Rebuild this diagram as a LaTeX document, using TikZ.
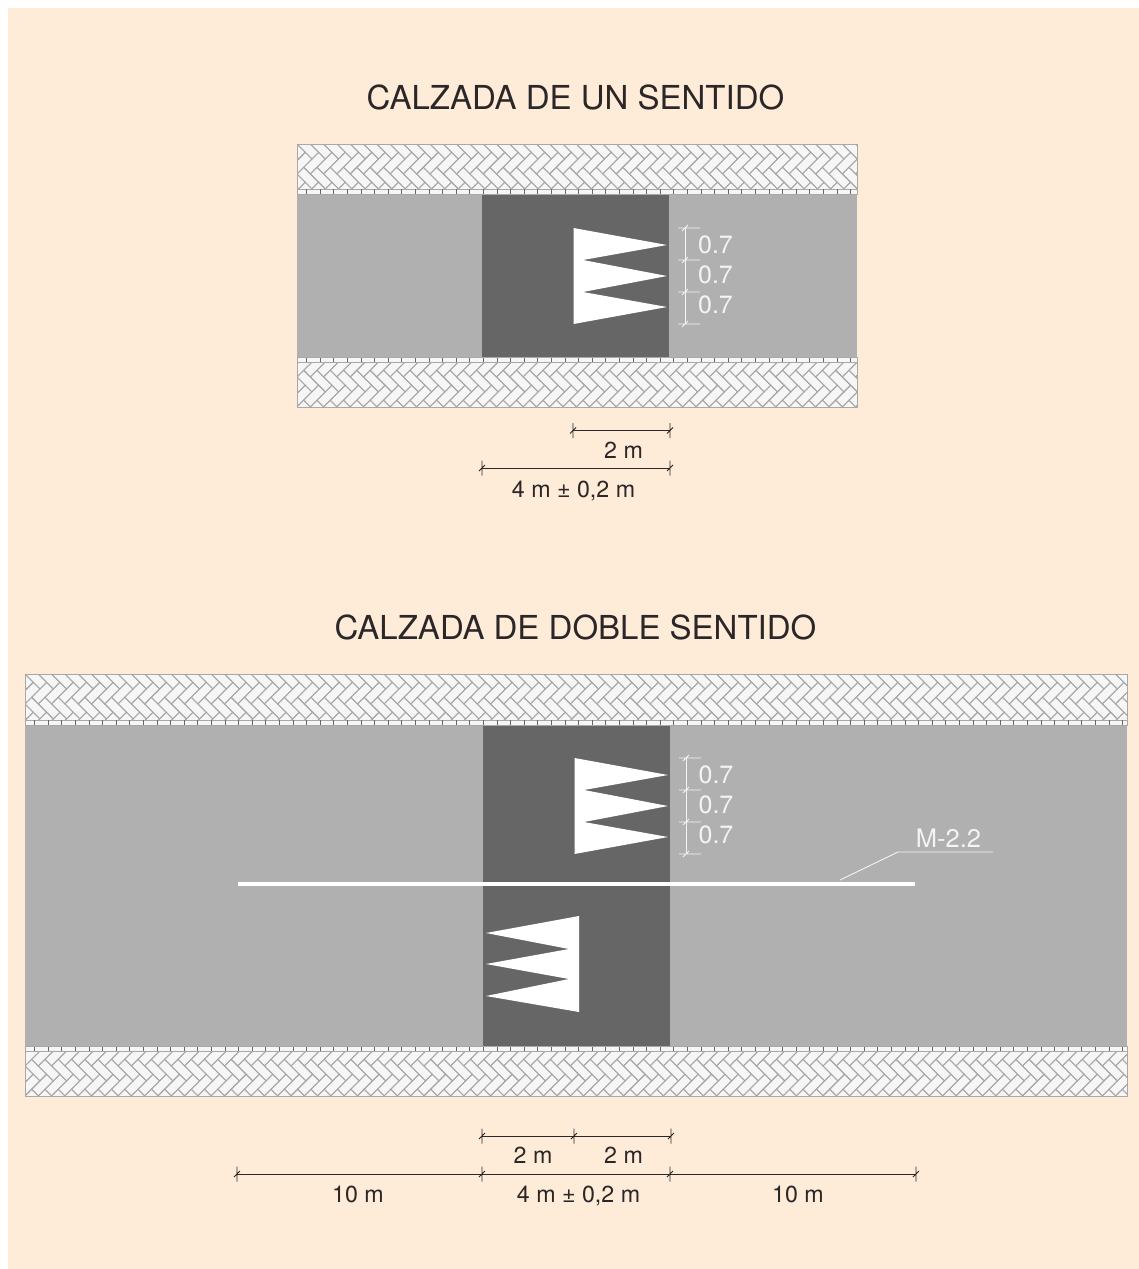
\documentclass[tikz,border=0pt]{standalone}
\usepackage{fontspec}
\setmainfont{TeX Gyre Heros}
\definecolor{bgc}{HTML}{FEEBD8}
\definecolor{roadc}{HTML}{B0B0B0}
\definecolor{darkc}{HTML}{666666}
\definecolor{brickc}{HTML}{F6F6F6}
\definecolor{jointc}{HTML}{A8A8A8}
\definecolor{inkc}{HTML}{2B2728}
\definecolor{paintc}{HTML}{F4F4F4}
\tikzset{
  titletext/.style={font=\fontsize{33}{33}\selectfont,text=inkc,inner sep=0pt},
  dimtext/.style={font=\fontsize{23.2}{24}\selectfont,text=inkc,inner sep=0pt,anchor=base},
  roadtext/.style={font=\fontsize{25}{25}\selectfont,text=paintc,inner sep=0pt},
  dimline/.style={draw=inkc,line width=1pt},
  paintdim/.style={draw=paintc,line width=0.9pt},
  arrowmark/.style={fill=white,draw=none},
  joint/.style={draw=jointc,line width=0.9pt},
}
% x1 x2 ytop ybottom (herringbone area) + pattern origin
\newcommand{\herring}[6]{%
  \fill[brickc] (#1,#3) rectangle (#2,#4);
  \begin{scope}
    \clip (#1,#3) rectangle (#2,#4);
    \begin{scope}[shift={(#5,#6)},x={(6.65pt,-6.65pt)},y={(6.65pt,6.65pt)},joint]
      \pgfmathtruncatemacro{\imax}{(#2-#1)/13.3+4}
      \foreach \i in {-3,...,\imax}{
        \foreach \j in {-1,0,1,2}{
          \draw ({\i+2.25*\j},{\i-2.25*\j}) -- ++(2.25,0) -- ++(0,1) -- ++(-2.25,0) -- cycle;
          \draw ({\i+2.25*\j},{\i-2.25*\j+1}) -- ++(1,0) -- ++(0,2.25) -- ++(-1,0) -- cycle;
        }
      }
    \end{scope}
  \end{scope}
}
% x1 x2 ytop ybottom : curb row
\newcommand{\curb}[4]{%
  \fill[brickc] (#1,#3) rectangle (#2,#4);
  \draw[draw=jointc,line width=1pt] (#1,#3) -- (#2,#3) (#1,#4) -- (#2,#4);
  \pgfmathtruncatemacro{\nmax}{(#2-#1)/13.6}
  \foreach \n in {1,...,\nmax}{
    \draw[draw=black!60,line width=0.7pt] ({#1+13.6*\n-4},#3) -- +(0,5);
  }
}
% horizontal dimension tick
\newcommand{\htick}[2]{%
  \draw[dimline,line width=0.8pt] (#1,#2-7.5) -- (#1,#2+7.5) (#1-3,#2+3) -- (#1+3,#2-3);
}
% vertical dimension tick
\newcommand{\vtick}[2]{%
  \draw[paintdim] (#1-7,#2) -- (#1+15,#2) (#1-3,#2+3) -- (#1+3,#2-3);
}
\begin{document}
\begin{tikzpicture}[x=1pt,y=-1pt]
\useasboundingbox (0,0) rectangle (1139,1269);
\fill[bgc] (8,8) rectangle (1139,1269);

% ---------- one-way carriageway
\node[titletext] (title1) at (575.5,97) {CALZADA DE UN SENTIDO};
\fill[roadc] (297,194) rectangle (857,357);
\fill[darkc] (482,194) rectangle (669,357);
\herring{297}{857}{144}{189}{297}{144}
\curb{297}{857}{189}{194}
\herring{297}{857}{362}{407}{297}{347}
\curb{297}{857}{357}{362}
\draw[jointc,line width=1pt] (297,144) rectangle (857,194) (297,357) rectangle (857,407);
\fill[arrowmark] (573.5,228) -- (667,245) -- (583,260) -- (667,276) -- (583,292) -- (667,307) -- (573.5,324) -- cycle;
\draw[paintdim] (685,228) -- (685,324);
\vtick{685}{228}\vtick{685}{260}\vtick{685}{292}\vtick{685}{324}
\node[roadtext] (a1) at (715.5,245) {0.7};
\node[roadtext] (a2) at (715.5,275) {0.7};
\node[roadtext] (a3) at (715.5,305) {0.7};

\coordinate (d1a) at (573,430.5);
\coordinate (d1b) at (670,430.5);
\coordinate (d2a) at (482,468);
\coordinate (d2b) at (670,468);
\draw[dimline] (d1a) -- (d1b);
\draw[dimline] (d2a) -- (d2b);
\htick{573}{430.5}\htick{670}{430.5}\htick{482}{468}\htick{670}{468}
\node[dimtext] (l1) at (623.5,458) {2 m};
\node[dimtext] (l2) at (573.5,497) {4 m ± 0,2 m};

% ---------- two-way carriageway
\node[titletext] (title2) at (575.5,627.5) {CALZADA DE DOBLE SENTIDO};
\fill[roadc] (25,725) rectangle (1127,1046);
\fill[darkc] (483,725) rectangle (670,1046);
\herring{25}{1127}{674}{720}{25}{674}
\curb{25}{1127}{720}{725}
\herring{25}{1127}{1051}{1096}{25}{1036}
\curb{25}{1127}{1046}{1051}
\draw[jointc,line width=1pt] (25,674) rectangle (1127,725) (25,1046) rectangle (1127,1096);
\fill[arrowmark] (574.5,758) -- (668,775) -- (584,790) -- (668,806) -- (584,822) -- (668,837) -- (574.5,854) -- cycle;
\fill[arrowmark] (579,916) -- (486,933) -- (569,949) -- (486,964) -- (569,979) -- (486,996) -- (579,1012) -- cycle;
\draw[paintdim] (686,758) -- (686,854);
\vtick{686}{758}\vtick{686}{790}\vtick{686}{822}\vtick{686}{854}
\node[roadtext] (b1) at (716,775) {0.7};
\node[roadtext] (b2) at (716,805) {0.7};
\node[roadtext] (b3) at (716,835) {0.7};

\coordinate (la) at (238,884);
\coordinate (lb) at (915,884);
\draw[white,line width=4pt] (la) -- (lb);
\coordinate (ma) at (840,880);
\coordinate (mb) at (898,852);
\coordinate (mc) at (993,852);
\draw[paintdim] (ma) -- (mb) -- (mc);
\node[roadtext,font=\fontsize{25.5}{25.5}\selectfont] (m22) at (948.5,838.5) {M-2.2};

\coordinate (e1) at (482,1136);
\coordinate (e2) at (574,1136);
\coordinate (e3) at (671,1136);
\coordinate (f1) at (237,1174);
\coordinate (f2) at (482,1174);
\coordinate (f3) at (670,1174);
\coordinate (f4) at (916,1174);
\draw[dimline] (e1) -- (e2) -- (e3);
\draw[dimline] (f1) -- (f2) -- (f3) -- (f4);
\htick{482}{1136}\htick{574}{1136}\htick{671}{1136}
\htick{237}{1174}\htick{482}{1174}\htick{670}{1174}\htick{916}{1174}
\node[dimtext] (g1) at (533,1163) {2 m};
\node[dimtext] (g2) at (623.5,1163) {2 m};
\node[dimtext] (g3) at (358,1202) {10 m};
\node[dimtext] (g4) at (578.5,1202) {4 m ± 0,2 m};
\node[dimtext] (g5) at (798,1202) {10 m};
\end{tikzpicture}
\end{document}
